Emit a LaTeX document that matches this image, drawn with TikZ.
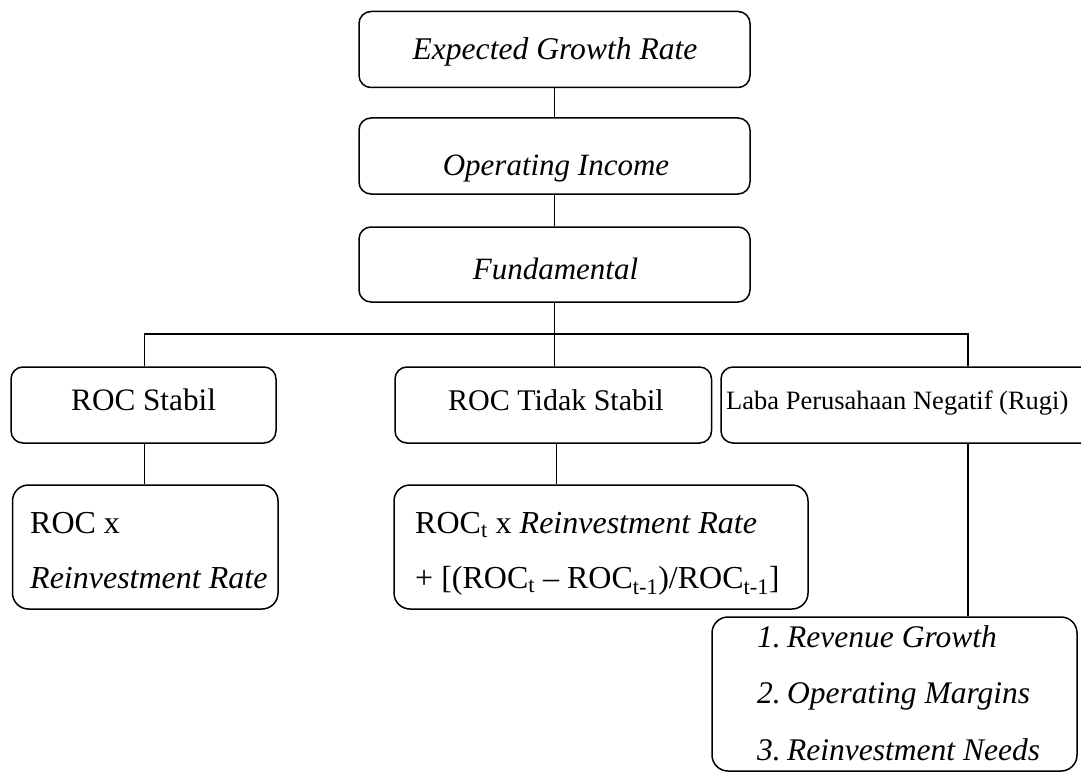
\documentclass[tikz,border=0pt]{standalone}
\usepackage{fontspec}
\setmainfont{Liberation Serif}
\begin{document}
\begin{tikzpicture}[x=1pt,y=-1pt,
  box/.style={draw=black,line width=1.5pt,rounded corners=12pt,inner sep=0pt,fill=none},
  bigbox/.style={box,rounded corners=16pt},
  conn/.style={draw=black,line width=1.5pt},
  txt/.style={inner sep=0pt,font=\fontsize{31}{37}\selectfont},
  fs/.style={font=\fontsize{#1}{#1}\selectfont}]
\useasboundingbox (0,0) rectangle (1081,773);
\clip (0,0) rectangle (1081,773);
% boxes
\node[box,minimum width=391pt,minimum height=76pt] (b1) at (554.5,49.5) {};
\node[box,minimum width=391pt,minimum height=76pt] (b2) at (554.5,156) {};
\node[box,minimum width=391pt,minimum height=75pt] (b3) at (554.5,264.5) {};
\node[box,minimum width=265pt,minimum height=76pt] (s1) at (143.5,405) {};
\node[box,minimum width=316.5pt,minimum height=76pt] (s2) at (553.25,405) {};
\node[box,minimum width=379pt,minimum height=76pt] (s3) at (910.5,405) {};
\node[bigbox,minimum width=265.5pt,minimum height=124pt] (r1) at (145.25,547) {};
\node[bigbox,minimum width=414pt,minimum height=124pt] (r2) at (601,547) {};
\node[bigbox,minimum width=365pt,minimum height=154pt] (r3) at (894.5,694) {};
% texts
\node[txt,fs=31.6,anchor=base] (t1) at (555,60) {\itshape Expected Growth Rate};
\node[txt,anchor=base] (t2) at (556,175) {\itshape Operating Income};
\node[txt,anchor=base] (t3) at (555.5,279) {\itshape Fundamental};
\node[txt,fs=31.2,anchor=base west] (t4) at (71,410) {ROC Stabil};
\node[txt,fs=30,anchor=base west] (t5) at (448,410) {ROC Tidak Stabil};
\node[txt,fs=26.5,anchor=base west] (t6) at (726,409) {Laba Perusahaan Negatif (Rugi)};
\node[txt,fs=32,anchor=base west] (t7) at (30,533) {ROC x};
\node[txt,fs=32,anchor=base west] (t8) at (30,588) {\itshape Reinvestment Rate};
\node[txt,fs=32,anchor=base west] (t9) at (415,533) {ROC\textsubscript{t} x \textit{Reinvestment Rate}};
\node[txt,fs=32,anchor=base west] (t10) at (415,588) {+ [(ROC\textsubscript{t} – ROC\textsubscript{t-1})/ROC\textsubscript{t-1}]};
\node[txt,fs=31.5,anchor=base west] (n1) at (757,647) {\itshape 1.};
\node[txt,fs=31.5,anchor=base west] (n2) at (757,703) {\itshape 2.};
\node[txt,fs=31.5,anchor=base west] (n3) at (757,760) {\itshape 3.};
\node[txt,fs=31.5,anchor=base west] (l1) at (787,647) {\itshape Revenue Growth};
\node[txt,fs=31.5,anchor=base west] (l2) at (787,703) {\itshape Operating Margins};
\node[txt,fs=31.5,anchor=base west] (l3) at (787,760) {\itshape Reinvestment Needs};
% connectors
\coordinate (j1) at (144.5,334);
\coordinate (j3) at (968,334);
\coordinate (j2) at (556.5,334);
\draw[conn] (b1.south) -- (b2.north);
\draw[conn] (b2.south) -- (b3.north);
\draw[conn] (b3.south) -- (b3.south |- s2.north);
\draw[conn] (j1 |- s1.north) -- (j1) -- (j3) -- (j3 |- s3.north);
\draw[conn] (j1 |- s1.south) -- (j1 |- r1.north);
\draw[conn] (j2 |- s2.south) -- (j2 |- r2.north);
\draw[conn] (j3 |- s3.south) -- (j3 |- r3.north);
\end{tikzpicture}
\end{document}
